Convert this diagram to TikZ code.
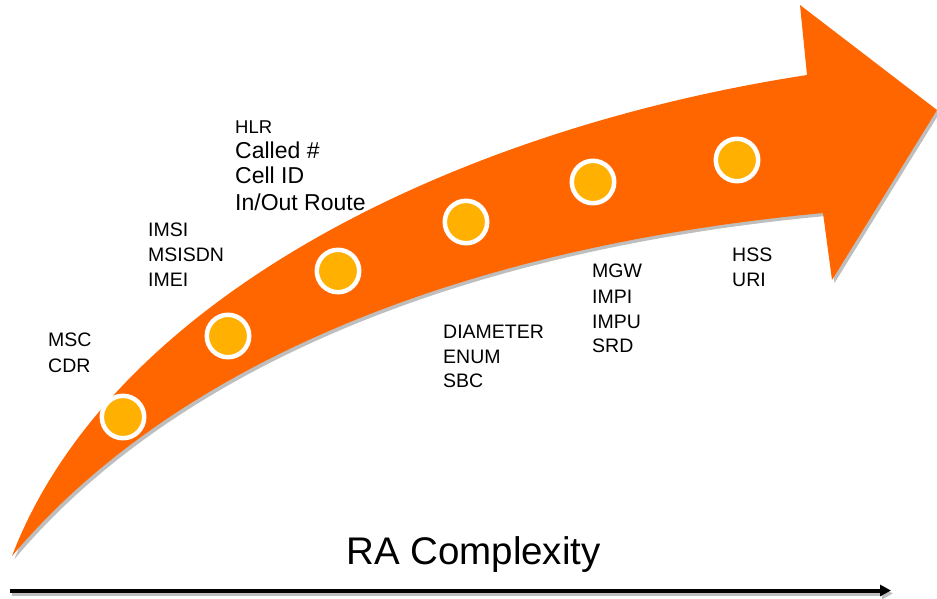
\documentclass[tikz,border=0pt]{standalone}
\usepackage{fontspec}
\setmainfont{Liberation Sans}
\usetikzlibrary{arrows.meta}
\definecolor{bandorange}{RGB}{255,102,0}
\definecolor{dotyellow}{RGB}{255,176,0}
\definecolor{shadowgray}{RGB}{190,190,190}
\tikzset{
  dot/.style={circle, fill=dotyellow, draw=white, line width=4.5pt,
    minimum size=42.4pt, inner sep=0pt},
  lbl/.style={anchor=base west, inner sep=0pt, font=\fontsize{19.5}{24}\selectfont},
  lblbig/.style={anchor=base west, inner sep=0pt, font=\fontsize{23}{27}\selectfont},
  lblsmall/.style={anchor=base west, inner sep=0pt, font=\fontsize{18.5}{22}\selectfont},
}
\begin{document}
\begin{tikzpicture}[x=1pt, y=-1pt]
\useasboundingbox (0,0) rectangle (937,598);

% curved growth arrow: shadow, then the orange band
\def\bandpath{(12,556) .. controls (110,300) and (450,130) .. (807,75)
  -- (800,5) -- (937,110) -- (832,280) -- (823,213)
  .. controls (430,250) and (160,380) .. (12,556) -- cycle}
\fill[shadowgray, shift={(2.5,3)}] \bandpath;
\fill[bandorange] \bandpath;

% milestone dots along the band
\node[dot] (c1) at (123,417) {};
\node[dot] (c2) at (228,336) {};
\node[dot] (c3) at (338,271) {};
\node[dot] (c4) at (466,222) {};
\node[dot] (c5) at (593,182) {};
\node[dot] (c6) at (737,160) {};

% labels
\node[lbl] (msc) at (48,346) {MSC};
\node[lbl] (cdr) at (48,372) {CDR};

\node[lbl] (imsi) at (148,236) {IMSI};
\node[lbl] (msisdn) at (148,261) {MSISDN};
\node[lbl] (imei) at (148,286) {IMEI};

\node[lblsmall] (hlr) at (235,133) {HLR};
\node[lblbig] (called) at (235,158.5) {Called \#};
\node[lblbig] (cellid) at (235,183.5) {Cell ID};
\node[lblbig] (route) at (235,210) {In/Out Route};

\node[lbl] (diameter) at (443,338) {DIAMETER};
\node[lbl] (enum) at (443,363) {ENUM};
\node[lbl] (sbc) at (443,387.5) {SBC};

\node[lbl] (mgw) at (592,277.5) {MGW};
\node[lbl] (impi) at (592,303) {IMPI};
\node[lbl] (impu) at (592,328) {IMPU};
\node[lbl] (srd) at (592,352) {SRD};

\node[lbl] (hss) at (732,261) {HSS};
\node[lbl] (uri) at (732,286) {URI};

% axis with its title
\node[anchor=base west, inner sep=0pt, font=\fontsize{38.5}{42}\selectfont]
  (title) at (346,564) {RA Complexity};
\coordinate (axstart) at (10,590.5);
\coordinate (axend) at (891,590.5);
\draw[shadowgray, line width=4pt, -{Triangle[length=11pt,width=11pt]}]
  ([shift={(2,3)}]axstart) -- ([shift={(2,3)}]axend);
\draw[black, line width=4pt, -{Triangle[length=11pt,width=11pt]}]
  (axstart) -- (axend);
\end{tikzpicture}
\end{document}
